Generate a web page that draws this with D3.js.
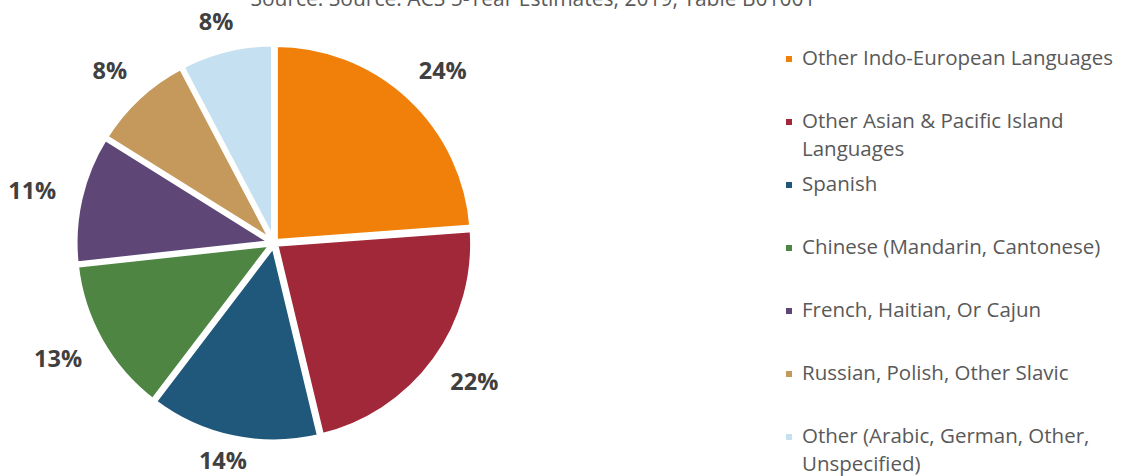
<!DOCTYPE html>
<html>
<head>
<meta charset="utf-8">
<script src="https://cdn.jsdelivr.net/npm/d3@7"></script>
<style>
  body { margin: 0; background: #fff; }
  svg { display: block; }
</style>
</head>
<body>
<script>
  var width = 1132;
  var height = 476;

  // data
  var categories = [
    "Other Indo-European Languages",
    "Other Asian & Pacific Island Languages",
    "Spanish",
    "Chinese (Mandarin, Cantonese)",
    "French, Haitian, Or Cajun",
    "Russian, Polish, Other Slavic",
    "Other (Arabic, German, Other, Unspecified)"
  ];
  var values = [23.8, 22.4, 14.1, 12.9, 10.6, 8.4, 7.7];
  var colors = ["#F0800A", "#A12838", "#1F587A", "#4E8542", "#5E4777", "#C4995B", "#C5E0F0"];
  // legend text split the way the reference wraps it
  var legendLines = [
    ["Other Indo-European Languages"],
    ["Other Asian & Pacific Island", "Languages"],
    ["Spanish"],
    ["Chinese (Mandarin, Cantonese)"],
    ["French, Haitian, Or Cajun"],
    ["Russian, Polish, Other Slavic"],
    ["Other (Arabic, German, Other,", "Unspecified)"]
  ];
  var title = "Source: Source: ACS 5-Year Estimates, 2019, Table B01001";

  var svg = d3.select("body")
    .append("svg")
    .attr("width", width)
    .attr("height", height);

  svg.append("text")
    .attr("x", 533)
    .attr("y", 6)
    .attr("text-anchor", "middle")
    .style("font-family", "'Open Sans', sans-serif")
    .style("font-size", "21px")
    .style("fill", "#595959")
    .text(title);

  var cx = 274, cy = 243, radius = 197, explode = 2;

  var pie = d3.pie().sort(null).value(function(d) { return d; });
  var arc = d3.arc().innerRadius(0).outerRadius(radius);
  var arcs = pie(values);

  var g = svg.append("g").attr("transform", "translate(" + cx + "," + cy + ")");

  g.selectAll(".slice")
    .data(arcs)
    .enter().append("path")
    .attr("class", "slice")
    .attr("d", arc)
    .attr("fill", function(d, i) { return colors[i]; })
    .attr("stroke", "#fff")
    .attr("stroke-width", 5)
    .attr("stroke-linejoin", "round")
    .attr("transform", function(d) {
      var a = (d.startAngle + d.endAngle) / 2;
      return "translate(" + (Math.sin(a) * explode) + "," + (-Math.cos(a) * explode) + ")";
    });

  // outside-end labels, kept inside the chart area like the original
  var labelR = 224, halfH = 11;
  g.selectAll(".lbl")
    .data(arcs)
    .enter().append("text")
    .attr("class", "lbl")
    .attr("text-anchor", "middle")
    .attr("dy", "0.35em")
    .style("font-family", "'Open Sans', sans-serif")
    .style("font-weight", "bold")
    .style("font-size", "23.5px")
    .style("fill", "#404040")
    .text(function(d) { return Math.round(d.value) + "%"; })
    .attr("x", function(d) {
      var a = (d.startAngle + d.endAngle) / 2;
      var w = this.getComputedTextLength();
      return Math.sin(a) * labelR + Math.sin(a) * w / 2;
    })
    .attr("y", function(d) {
      var a = (d.startAngle + d.endAngle) / 2;
      var y = -Math.cos(a) * labelR - Math.cos(a) * halfH;
      return Math.max(22 - cy, Math.min(height - 15 - cy, y));
    });

  // legend
  var legendY = d3.scaleLinear().domain([0, 1]).range([65, 128]);
  var legend = svg.append("g");
  legendLines.forEach(function(lines, i) {
    var y = legendY(i);
    legend.append("rect")
      .attr("x", 786)
      .attr("y", y - 9)
      .attr("width", 6)
      .attr("height", 6)
      .attr("fill", colors[i]);
    var t = legend.append("text")
      .attr("x", 802)
      .attr("y", y)
      .style("font-family", "'Open Sans', sans-serif")
      .style("font-size", "20.5px")
      .style("fill", "#595959");
    lines.forEach(function(line, j) {
      t.append("tspan").attr("x", 802).attr("y", y + j * 28).text(line);
    });
  });
</script>
</body>
</html>
